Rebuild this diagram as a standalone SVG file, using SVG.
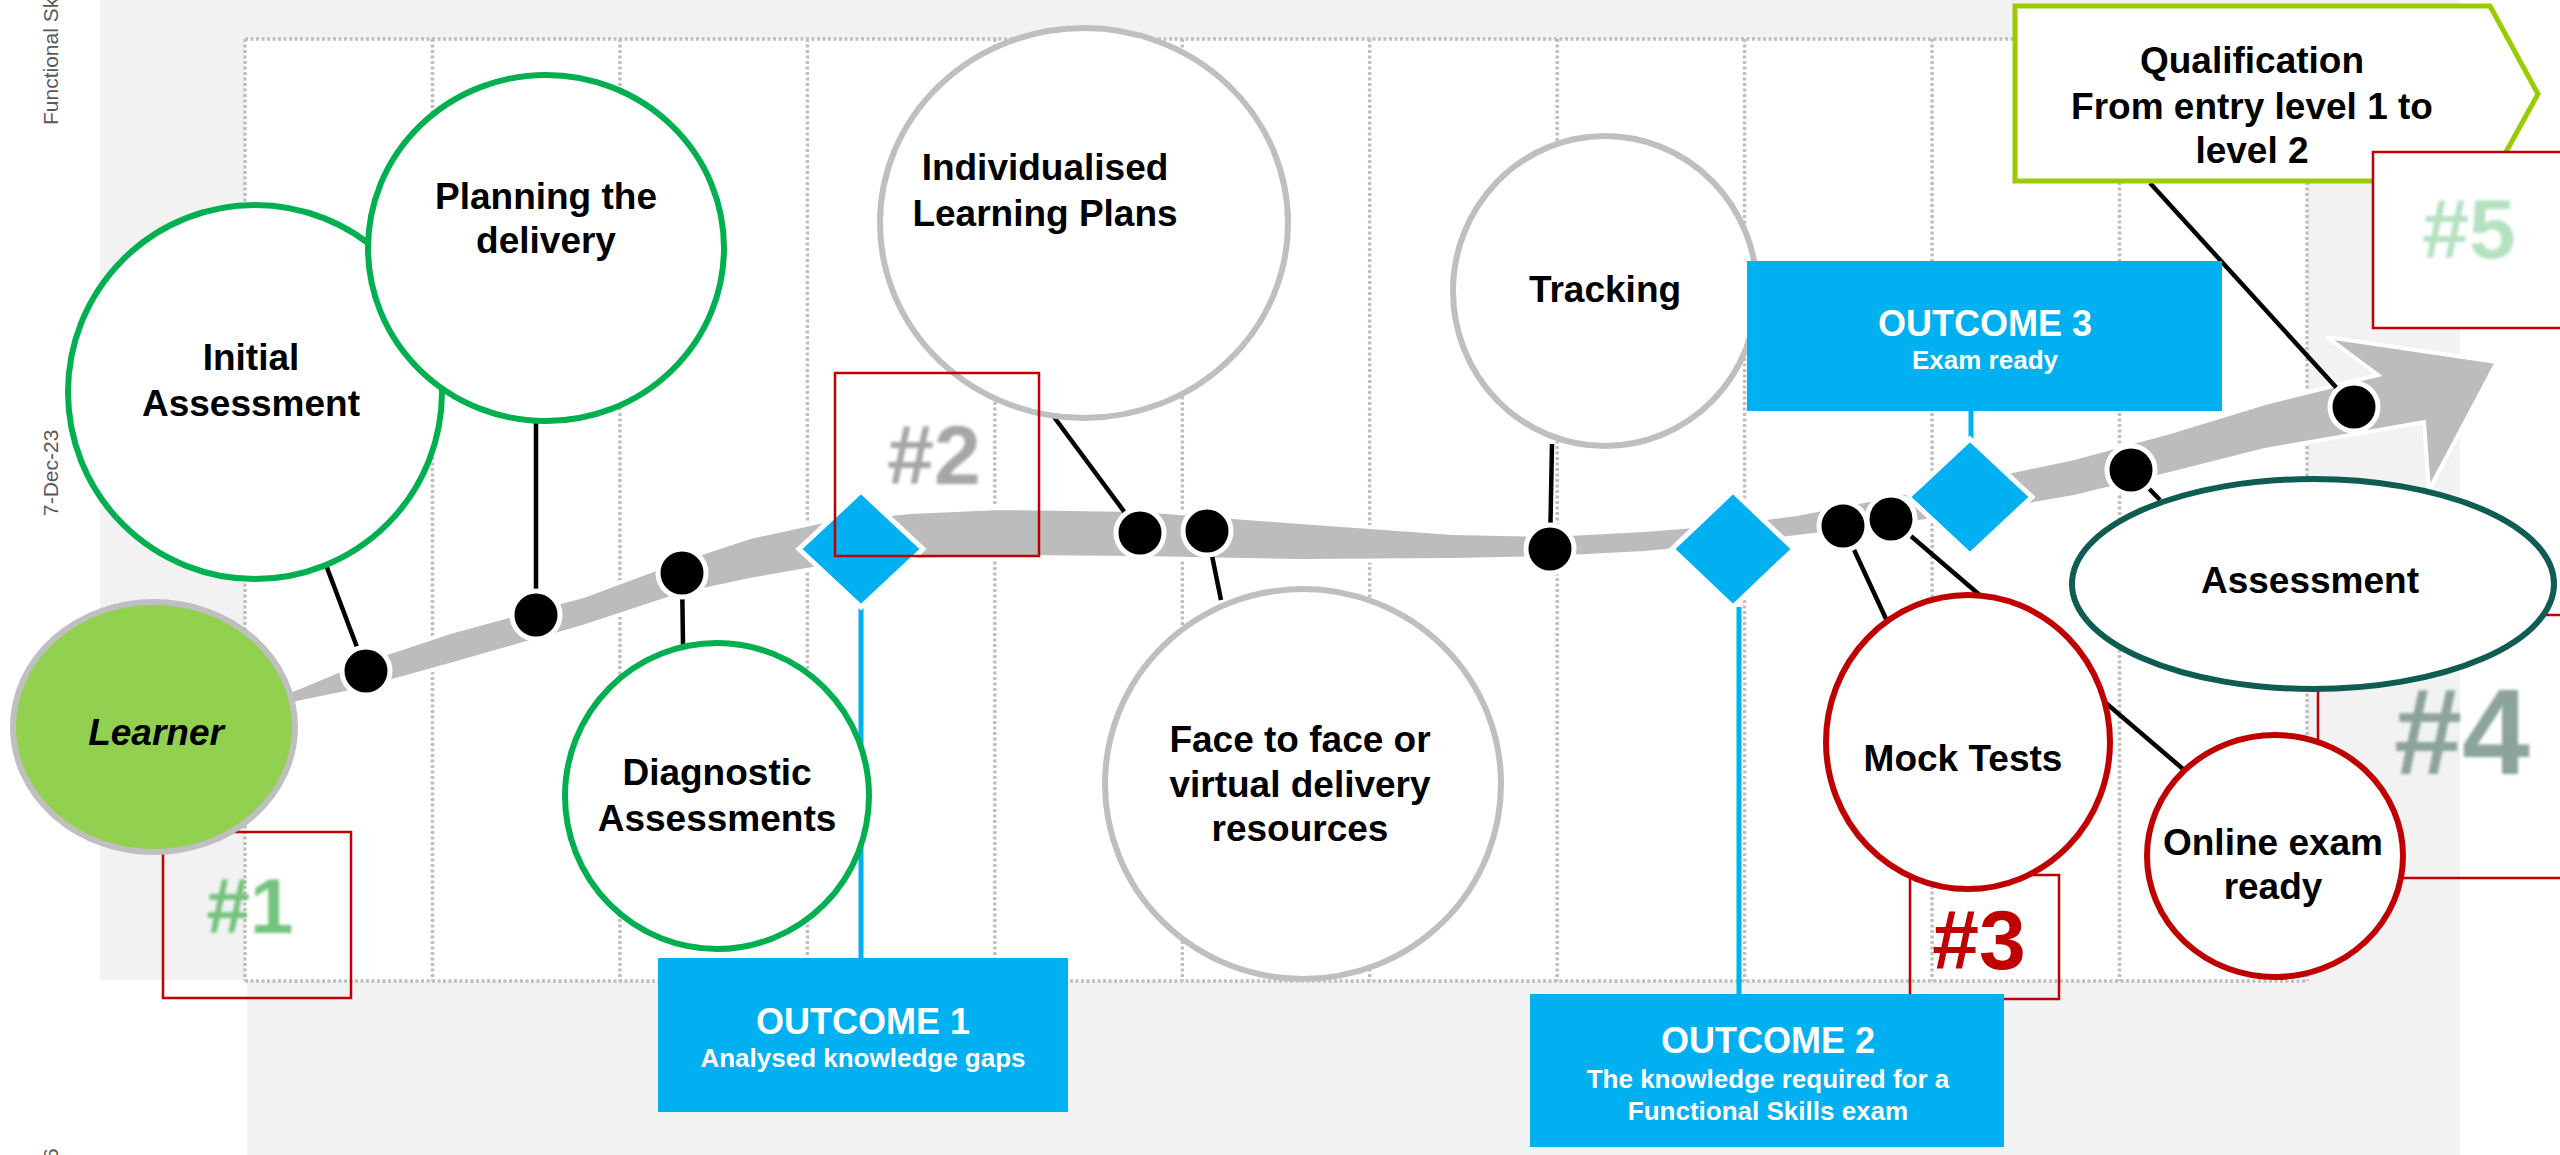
<svg xmlns="http://www.w3.org/2000/svg" width="2560" height="1155" viewBox="0 0 2560 1155">
<defs>
<style>
text{font-family:'Liberation Sans',Arial,sans-serif;}
.lbl{font-weight:bold;font-size:37px;fill:#000;text-anchor:middle;}
.side{font-size:21px;fill:#595959;}
.grid{stroke:#bfbfbf;stroke-width:3.5;stroke-dasharray:3 2.5;fill:none;}
.conn{stroke:#000;stroke-width:4.5;fill:none;}
.blue{stroke:#00b0f0;stroke-width:5;fill:none;}
.dot{fill:#000;stroke:#fff;stroke-width:5;}
.dia{fill:#00b0f0;stroke:#fff;stroke-width:5;}
.rbox{fill:none;stroke:#c00000;stroke-width:2.5;}
.nodeG{fill:#fff;stroke:#00b050;stroke-width:6;}
.nodeGr{fill:#fff;stroke:#bfbfbf;stroke-width:6;}
.nodeR{fill:#fff;stroke:#c00000;stroke-width:6;}
.obox{fill:#00b0f0;}
.otitle{font-weight:bold;font-size:36px;fill:#fff;text-anchor:middle;}
.osub{font-weight:bold;font-size:26px;fill:#fff;text-anchor:middle;}
.hash{font-weight:bold;text-anchor:middle;}
</style>
<filter id="soft" x="-20%" y="-20%" width="140%" height="140%"><feGaussianBlur stdDeviation="1.6"/></filter>
</defs>

<!-- background -->
<path d="M100,0 H2460 V1155 H247 V980 H100 Z" fill="#f2f2f2"/>
<rect x="245" y="39" width="2062" height="942" fill="#fff"/>
<g id="grid">
<path class="grid" d="M245,39 H2307 M245,981 H2307 M245,39 V981 M2307,39 V981"/>
<path class="grid" d="M432.5,39 V981 M619.9,39 V981 M807.4,39 V981 M994.8,39 V981 M1182.3,39 V981 M1369.7,39 V981 M1557.2,39 V981 M1744.6,39 V981 M1932.1,39 V981 M2119.5,39 V981"/>
</g>

<!-- side texts -->
<text class="side" font-size="20" transform="translate(58,125) rotate(-90)">Functional Sk</text>
<text class="side" transform="translate(58,516) rotate(-90)">7-Dec-23</text>
<text class="side" transform="translate(58,1160) rotate(-90)">6</text>

<!-- gray path arrow -->
<path id="timeline" d="M270,697 L297,688 L360,662 L450,632 L583,596 L680,560 L750,537 L824,521 L910,512 L1000,508 L1140,510 L1300,522 L1453,533 L1550,535 L1644,530 L1720,524 L1797,514 L1874,499 L1970,480 L2074,458 L2170,432 L2265,403 L2378,375 L2327,337 L2497,362 L2429,490 L2424,422 L2265,450 L2170,474 L2074,497 L1970,515 L1874,528 L1797,537 L1720,546 L1644,553 L1550,558 L1453,560 L1300,561 L1140,558 L1000,557 L910,560 L824,567 L750,580 L680,595 L583,627 L450,665 L360,690 L297,703 L270,706 Z" fill="#bcbcbc" stroke="#fff" stroke-width="4" stroke-linejoin="miter"/>

<!-- red boxes behind nodes -->
<rect class="rbox" x="163" y="832" width="188" height="166"/>
<rect class="rbox" x="1910" y="875" width="149" height="124"/>
<rect class="rbox" x="2318" y="615" width="260" height="263"/>

<!-- connectors -->
<g id="connectors">
<line class="conn" x1="326" y1="565" x2="366" y2="671"/>
<line class="conn" x1="536" y1="421" x2="536" y2="615"/>
<line class="conn" x1="682" y1="573" x2="683" y2="645"/>
<line class="conn" x1="1054" y1="417" x2="1140" y2="533"/>
<line class="conn" x1="1207" y1="531" x2="1221" y2="600"/>
<line class="conn" x1="1552" y1="444" x2="1550" y2="549"/>
<line class="conn" x1="1843" y1="526" x2="1887" y2="621"/>
<line class="conn" x1="1891" y1="519" x2="2190" y2="775"/>
<line class="conn" x1="2131" y1="470" x2="2160" y2="500"/>
<line class="conn" x1="2150" y1="183" x2="2354" y2="407"/>
<line class="blue" x1="861" y1="607" x2="861" y2="960"/>
<line class="blue" x1="1739" y1="607" x2="1739" y2="995"/>
<line class="blue" x1="1971" y1="409" x2="1971" y2="442"/>
</g>

<!-- dots -->
<g id="dots">
<circle class="dot" cx="366" cy="671" r="24"/>
<circle class="dot" cx="536" cy="615" r="24"/>
<circle class="dot" cx="682" cy="573" r="24"/>
<circle class="dot" cx="1140" cy="533" r="24"/>
<circle class="dot" cx="1207" cy="531" r="24"/>
<circle class="dot" cx="1550" cy="549" r="24"/>
<circle class="dot" cx="1843" cy="526" r="24"/>
<circle class="dot" cx="1891" cy="519" r="24"/>
<circle class="dot" cx="2131" cy="470" r="24"/>
<circle class="dot" cx="2354" cy="407" r="24"/>
</g>

<!-- milestone diamonds -->
<g id="milestone1"><polygon class="dia" points="861,491 923,549 861,607 799,549"/></g>
<g id="milestone2"><polygon class="dia" points="1733,491 1794,549 1733,607 1672,549"/></g>
<g id="milestone3"><polygon class="dia" points="1970,439 2032,497 1970,555 1908,497"/></g>

<!-- nodes -->
<g id="learner">
<ellipse cx="154" cy="727" rx="141" ry="125" fill="#92d050" stroke="#bfbfbf" stroke-width="6"/>
<text class="lbl" x="156" y="745" font-size="43" font-style="italic">Learner</text>
</g>
<g id="initial-assessment">
<ellipse class="nodeG" cx="255" cy="392" rx="187" ry="187"/>
<text class="lbl" x="251" y="370">Initial</text>
<text class="lbl" x="251" y="416">Assessment</text>
</g>
<g id="planning">
<ellipse class="nodeG" cx="546" cy="248" rx="178" ry="173"/>
<text class="lbl" x="546" y="209">Planning the</text>
<text class="lbl" x="546" y="253">delivery</text>
</g>
<g id="diagnostic">
<ellipse class="nodeG" cx="717" cy="796" rx="152" ry="153"/>
<text class="lbl" x="717" y="785">Diagnostic</text>
<text class="lbl" x="717" y="831">Assessments</text>
</g>
<g id="ilp">
<ellipse class="nodeGr" cx="1084" cy="223" rx="204" ry="195"/>
<text class="lbl" x="1045" y="180">Individualised</text>
<text class="lbl" x="1045" y="226">Learning Plans</text>
</g>
<g id="face-to-face">
<ellipse class="nodeGr" cx="1303" cy="784" rx="198" ry="195"/>
<text class="lbl" x="1300" y="752">Face to face or</text>
<text class="lbl" x="1300" y="797">virtual delivery</text>
<text class="lbl" x="1300" y="841">resources</text>
</g>
<g id="tracking">
<ellipse class="nodeGr" cx="1605" cy="291" rx="152" ry="155"/>
<text class="lbl" x="1605" y="302">Tracking</text>
</g>
<g id="mock-tests">
<ellipse class="nodeR" cx="1968" cy="742" rx="142" ry="147"/>
<text class="lbl" x="1963" y="771">Mock Tests</text>
</g>
<g id="assessment">
<ellipse cx="2313" cy="584" rx="241" ry="105" fill="#fff" stroke="#0e5c52" stroke-width="6"/>
<text class="lbl" x="2310" y="593">Assessment</text>
</g>
<g id="online-exam">
<ellipse class="nodeR" cx="2275" cy="856" rx="128" ry="121"/>
<text class="lbl" x="2273" y="855">Online exam</text>
<text class="lbl" x="2273" y="899">ready</text>
</g>
<g id="qualification">
<polygon points="2015,6 2490,6 2538,94 2490,181 2015,181" fill="#fff" stroke="#99cc00" stroke-width="5"/>
<text class="lbl" x="2252" y="73" font-size="36">Qualification</text>
<text class="lbl" x="2252" y="119" font-size="36">From entry level 1 to</text>
<text class="lbl" x="2252" y="163" font-size="36">level 2</text>
</g>

<!-- red boxes on top -->
<rect class="rbox" x="835" y="373" width="204" height="183"/>
<rect x="2373" y="152" width="200" height="176" fill="#fff" stroke="#c00000" stroke-width="2.5"/>

<!-- hashtags -->
<text class="hash" x="250" y="933" font-size="78" fill="#73c27d" filter="url(#soft)">#1</text>
<text class="hash" x="934" y="484" font-size="84" fill="#a6a6a6" filter="url(#soft)">#2</text>
<text class="hash" x="1979" y="969" font-size="84" fill="#c00000">#3</text>
<text class="hash" x="2462" y="774" font-size="122" fill="#8ba39b" filter="url(#soft)">#4</text>
<text class="hash" x="2469" y="258" font-size="84" fill="#b5e1c1" filter="url(#soft)">#5</text>

<!-- outcomes -->
<g id="outcome1">
<rect class="obox" x="658" y="958" width="410" height="154"/>
<text class="otitle" x="863" y="1034">OUTCOME 1</text>
<text class="osub" x="863" y="1067">Analysed knowledge gaps</text>
</g>
<g id="outcome2">
<rect class="obox" x="1530" y="994" width="474" height="153"/>
<text class="otitle" x="1768" y="1053">OUTCOME 2</text>
<text class="osub" x="1768" y="1088">The knowledge required for a</text>
<text class="osub" x="1768" y="1120">Functional Skills exam</text>
</g>
<g id="outcome3">
<rect class="obox" x="1747" y="261" width="475" height="150"/>
<text class="otitle" x="1985" y="336">OUTCOME 3</text>
<text class="osub" x="1985" y="369">Exam ready</text>
</g>
</svg>
